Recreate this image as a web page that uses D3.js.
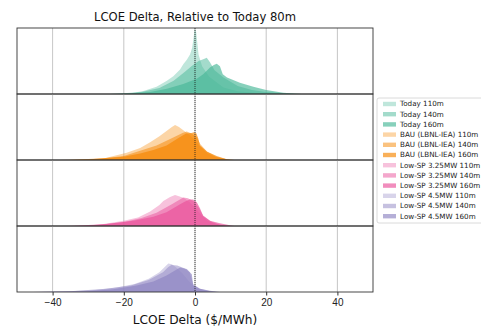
<!DOCTYPE html>
<html>
<head>
<meta charset="UTF-8">
<title>LCOE Delta</title>
<script src="https://cdn.jsdelivr.net/npm/d3@7"></script>
<style>
  body { margin: 0; background: #fff; }
  svg { font-family: "DejaVu Sans", sans-serif; }
</style>
</head>
<body>
<svg id="chart" width="481" height="327"></svg>
<script>
// [LCOE delta $/MWh, relative density]
const today110 = [[-22,0],[-18,0.01],[-14.5,0.045],[-10.8,0.11],[-7.9,0.2],[-6.1,0.27],[-4.2,0.37],[-3.3,0.45],[-2.3,0.52],[-1.4,0.6],[-0.8,0.7],[-0.4,0.85],[-0.1,0.99],[0.3,0.95],[0.6,0.8],[1.0,0.6],[2,0.42],[4,0.26],[8,0.1],[12,0.04],[18,0.01],[22,0]];
const today140 = [[-24,0],[-20,0.01],[-15,0.03],[-10,0.09],[-6,0.2],[-3,0.33],[-1,0.42],[1,0.5],[2.5,0.53],[3.3,0.55],[4.2,0.48],[5.5,0.36],[8,0.25],[12,0.12],[16,0.06],[20,0.03],[25,0.01],[28,0]];
const today160 = [[-24,0],[-20,0.005],[-12.6,0.03],[-7.9,0.08],[-3.3,0.15],[0.5,0.23],[2.3,0.3],[4.2,0.4],[5.3,0.44],[6.1,0.46],[7,0.42],[7.8,0.3],[9,0.25],[12.6,0.17],[16.4,0.11],[20,0.06],[24.8,0.02],[30,0]];

const bau110 = [[-34,0],[-26,0.02],[-19.2,0.11],[-15.4,0.18],[-12.6,0.27],[-10,0.36],[-8,0.44],[-6.5,0.5],[-5.6,0.53],[-4.5,0.5],[-3,0.44],[-1.5,0.38],[0,0.3],[1.5,0.2],[3.5,0.1],[6,0.04],[9,0.01],[11,0]];
const bau140 = [[-35,0],[-25,0.03],[-20,0.06],[-15.4,0.14],[-10.8,0.22],[-6.1,0.34],[-3.5,0.41],[-2.3,0.43],[-1,0.4],[0.5,0.35],[1.5,0.24],[3.5,0.12],[6,0.05],[9,0.01],[11,0]];
const bau160 = [[-38,0],[-29.5,0.01],[-24.8,0.03],[-20.1,0.05],[-15.4,0.1],[-11.7,0.15],[-8,0.22],[-4.2,0.35],[-2.5,0.4],[-1,0.41],[-0.3,0.42],[0.4,0.4],[0.9,0.33],[1.4,0.22],[3.3,0.13],[6.1,0.06],[8.9,0.01],[10,0]];

const lsp325_110 = [[-34,0],[-27,0.02],[-20,0.08],[-16,0.13],[-12.6,0.22],[-10,0.32],[-8.9,0.38],[-7,0.44],[-5.6,0.47],[-4.5,0.45],[-3,0.42],[-1.5,0.36],[0,0.28],[1.5,0.18],[3.5,0.08],[6,0.03],[9,0.005],[10,0]];
const lsp325_140 = [[-35,0],[-25,0.03],[-20,0.06],[-15,0.12],[-10.8,0.2],[-6.5,0.33],[-4,0.41],[-3.3,0.43],[-2,0.42],[-0.5,0.38],[1,0.28],[2.3,0.16],[4.5,0.07],[7,0.02],[10,0]];
const lsp325_160 = [[-38,0],[-31,0.005],[-24.8,0.03],[-17.3,0.08],[-11.7,0.14],[-8,0.21],[-4.2,0.33],[-2.5,0.38],[-1.5,0.4],[-0.5,0.4],[0.5,0.36],[1.4,0.27],[2.3,0.15],[4.2,0.08],[7,0.04],[9.8,0.01],[11,0]];

const lsp45_110 = [[-44,0],[-35,0.01],[-28,0.03],[-22,0.07],[-17,0.12],[-13,0.2],[-10,0.3],[-8.5,0.38],[-7.5,0.43],[-6.5,0.42],[-5,0.36],[-3.5,0.28],[-2,0.18],[-0.5,0.1],[1,0.05],[3,0.02],[5,0]];
const lsp45_140 = [[-45,0],[-35,0.01],[-25,0.05],[-18,0.1],[-13,0.18],[-9,0.3],[-7.5,0.38],[-6.6,0.41],[-5,0.4],[-3,0.36],[-1.5,0.3],[-0.5,0.12],[1.4,0.05],[4,0.015],[6,0]];
const lsp45_160 = [[-46,0],[-40,0.005],[-30.5,0.01],[-23,0.04],[-16.4,0.1],[-11.7,0.16],[-8,0.25],[-5.5,0.33],[-4.2,0.37],[-2.3,0.35],[-0.9,0.27],[-0.5,0.1],[1.4,0.05],[4.2,0.02],[7,0]];

const panelNames = ["Today", "BAU (LBNL-IEA)", "Low-SP 3.25MW", "Low-SP 4.5MW"];
const heights = ["110m", "140m", "160m"];
const panelColors = ["#47b797", "#f68600", "#e9509a", "#8e84c2"];
const alphas = [0.35, 0.5, 0.65];
const panelSeries = [
  [today110, today140, today160],
  [bau110, bau140, bau160],
  [lsp325_110, lsp325_140, lsp325_160],
  [lsp45_110, lsp45_140, lsp45_160]
];
const xTicks = [-40, -20, 0, 20, 40];

const margin = {left: 17, right: 108, top: 28, bottom: 35};
const width = 481, height = 327;
const panelH = (height - margin.top - margin.bottom) / 4;

const svg = d3.select("#chart");

const x = d3.scaleLinear().domain([-50, 50]).range([margin.left, width - margin.right]);

svg.append("text")
  .attr("x", 195)
  .attr("y", 21)
  .attr("text-anchor", "middle")
  .style("font-size", "11.6px")
  .attr("fill", "#111")
  .text("LCOE Delta, Relative to Today 80m");

panelSeries.forEach((series, p) => {
  const top = margin.top + p * panelH;
  const y = d3.scaleLinear().domain([0, 1]).range([top + panelH, top]);
  const g = svg.append("g");

  // grid
  g.selectAll("line.grid")
    .data(xTicks)
    .join("line")
    .attr("x1", d => x(d)).attr("x2", d => x(d))
    .attr("y1", top).attr("y2", top + panelH)
    .attr("stroke", "#b8b8b8")
    .attr("stroke-width", 0.8);

  const area = d3.area()
    .x(d => x(d[0]))
    .y0(y(0))
    .y1(d => y(d[1]));

  series.forEach((s, i) => {
    g.append("path")
      .datum(s)
      .attr("d", area)
      .attr("fill", panelColors[p])
      .attr("fill-opacity", alphas[i]);
  });

  // zero reference
  g.append("line")
    .attr("x1", x(0)).attr("x2", x(0))
    .attr("y1", top).attr("y2", top + panelH)
    .attr("stroke", "#222")
    .attr("stroke-width", 0.8)
    .attr("stroke-dasharray", "1,1");

  g.append("rect")
    .attr("x", margin.left).attr("y", top)
    .attr("width", width - margin.right - margin.left)
    .attr("height", panelH)
    .attr("fill", "none")
    .attr("stroke", "#333")
    .attr("stroke-width", 0.9);
});

const axis = svg.append("g")
  .attr("transform", `translate(0,${height - margin.bottom})`)
  .call(d3.axisBottom(x).tickValues(xTicks).tickSize(3.5).tickPadding(3.5));
axis.select(".domain").remove();
axis.selectAll("text").style("font-size", "10px").attr("fill", "#222");
axis.selectAll("line").attr("stroke", "#333");

svg.append("text")
  .attr("x", 195)
  .attr("y", 324)
  .attr("text-anchor", "middle")
  .style("font-size", "12.2px")
  .attr("fill", "#111")
  .text("LCOE Delta ($/MWh)");

// legend
const legendItems = [];
panelNames.forEach((n, p) => heights.forEach((h, i) => legendItems.push({label: n + " " + h, color: panelColors[p], alpha: alphas[i]})));

const lg = svg.append("g").attr("transform", "translate(377,98)");
lg.append("rect")
  .attr("x", 0).attr("y", 0)
  .attr("width", 120).attr("height", 125)
  .attr("rx", 2)
  .attr("fill", "#fff")
  .attr("stroke", "#d0d0d0")
  .attr("stroke-width", 0.8);

const items = lg.selectAll("g.item")
  .data(legendItems)
  .join("g")
  .attr("transform", (d, i) => `translate(0,${6 + i * 10.2})`);
items.append("rect")
  .attr("x", 6).attr("y", -2.2)
  .attr("width", 13).attr("height", 4.4)
  .attr("fill", d => d.color)
  .attr("fill-opacity", d => d.alpha);
items.append("text")
  .attr("x", 23).attr("y", 2.4)
  .style("font-size", "7.2px")
  .attr("fill", "#222")
  .text(d => d.label);
</script>
</body>
</html>
